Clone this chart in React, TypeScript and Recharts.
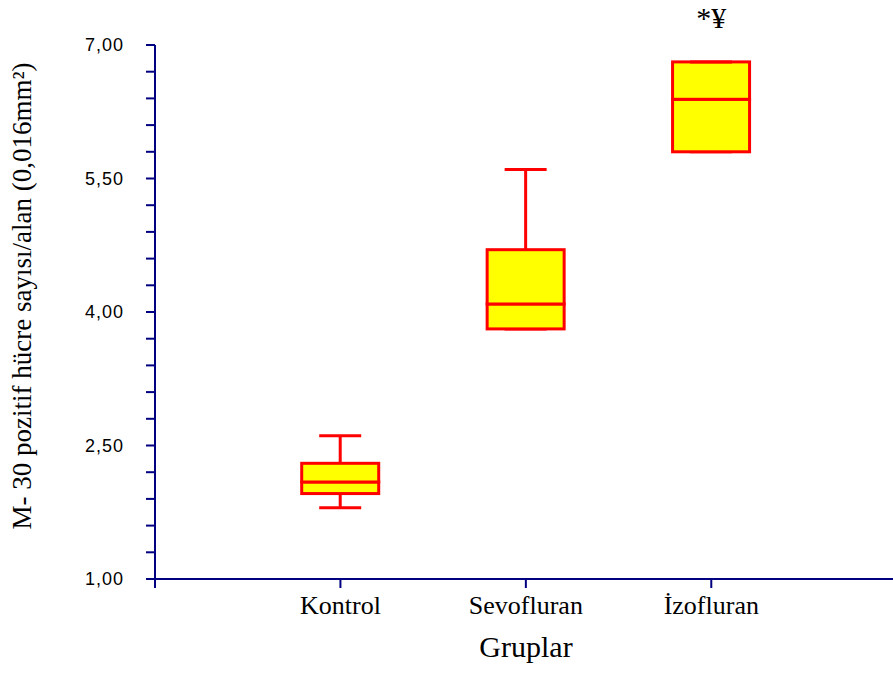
import { Bar, ComposedChart, ReferenceDot, XAxis, YAxis } from "recharts";

const groups = ["Kontrol", "Sevofluran", "İzofluran"];
const minValues = [1.8, 3.81, 5.8];
const q1Values = [1.96, 3.81, 5.8];
const medianValues = [2.09, 4.09, 6.39];
const q3Values = [2.3, 4.7, 6.81];
const maxValues = [2.61, 5.6, 6.81];
const marks = ["", "", "*¥"];

const yTicks = [
  1, 1.3, 1.6, 1.9, 2.2, 2.5, 2.8, 3.1, 3.4, 3.7, 4, 4.3, 4.6, 4.9, 5.2, 5.5,
  5.8, 6.1, 6.4, 6.7, 7,
];
const yLabelTicks = [1, 2.5, 4, 5.5, 7];

const yTitle = "M- 30 pozitif hücre sayısı/alan (0,016mm²)";
const xTitle = "Gruplar";

const data = groups.map((name, i) => ({
  name,
  pos: i + 1,
  max: maxValues[i],
  mark: marks[i],
  base: minValues[i],
  lowWhisker: q1Values[i] - minValues[i],
  lowBox: medianValues[i] - q1Values[i],
  highBox: q3Values[i] - medianValues[i],
  highWhisker: maxValues[i] - q3Values[i],
}));

const xTicks = [0, ...data.map((d) => d.pos)];

const NAVY = "#000080";
const RED = "#ff0000";
const YELLOW = "#ffff00";
const CAP = 42;
const SERIF = "'Liberation Serif', 'Times New Roman', serif";
const SANS = "'Liberation Sans', Arial, sans-serif";

function edges(props: any) {
  const top = Math.min(props.y, props.y + props.height);
  const bottom = Math.max(props.y, props.y + props.height);
  return { top, bottom, cx: props.x + props.width / 2 };
}

function LowWhisker(props: any) {
  const { top, bottom, cx } = edges(props);
  return (
    <g>
      <line x1={cx} x2={cx} y1={top} y2={bottom} stroke={RED} strokeWidth={3} />
      <line
        x1={cx - CAP / 2}
        x2={cx + CAP / 2}
        y1={bottom}
        y2={bottom}
        stroke={RED}
        strokeWidth={3}
      />
    </g>
  );
}

function HighWhisker(props: any) {
  const { top, bottom, cx } = edges(props);
  return (
    <g>
      <line x1={cx} x2={cx} y1={top} y2={bottom} stroke={RED} strokeWidth={3} />
      <line
        x1={cx - CAP / 2}
        x2={cx + CAP / 2}
        y1={top}
        y2={top}
        stroke={RED}
        strokeWidth={3}
      />
    </g>
  );
}

function BoxPart(props: any) {
  const { top, bottom } = edges(props);
  return (
    <rect
      x={props.x}
      y={top}
      width={props.width}
      height={bottom - top}
      fill={YELLOW}
      stroke={RED}
      strokeWidth={3}
    />
  );
}

function formatY(v: number) {
  const major = yLabelTicks.some((t) => Math.abs(t - v) < 1e-6);
  return major ? v.toFixed(2).replace(".", ",") : "";
}

export default function App() {
  return (
    <div
      style={{
        position: "absolute",
        left: 0,
        top: 0,
        width: 893,
        height: 674,
        background: "#ffffff",
        overflow: "hidden",
      }}
    >
      <ComposedChart
        width={893}
        height={674}
        data={data}
        margin={{ top: 45, right: 0, bottom: 0, left: 0 }}
      >
        <XAxis
          dataKey="pos"
          type="number"
          domain={[0, 3.98]}
          ticks={xTicks}
          interval={0}
          tickFormatter={(v) => groups[v - 1] ?? ""}
          height={95}
          tickSize={9}
          tickMargin={8}
          axisLine={{ stroke: NAVY, strokeWidth: 2 }}
          tickLine={{ stroke: NAVY, strokeWidth: 2 }}
          tick={{
            fill: "#000000",
            fontSize: 26,
            fontFamily: SERIF,
          }}
          label={(props: any) => {
            const vb = props.viewBox;
            return (
              <text
                x={vb.x + vb.width / 2 + 2}
                y={657}
                textAnchor="middle"
                fill="#000000"
                style={{ fontSize: 30, fontFamily: SERIF }}
              >
                {xTitle}
              </text>
            );
          }}
        />
        <YAxis
          type="number"
          domain={[1, 7]}
          allowDataOverflow
          ticks={yTicks}
          interval={0}
          tickFormatter={formatY}
          width={155}
          tickSize={9}
          tickMargin={22}
          axisLine={{ stroke: NAVY, strokeWidth: 2 }}
          tickLine={{ stroke: NAVY, strokeWidth: 2 }}
          tick={{
            fill: "#000000",
            fontSize: 18,
            fontFamily: SANS,
            letterSpacing: 1,
          }}
          label={(props: any) => {
            const vb = props.viewBox;
            const cx = 22;
            const cy = vb.y + vb.height / 2 - 16;
            return (
              <text
                x={cx}
                y={cy}
                transform={`rotate(-90 ${cx} ${cy})`}
                textAnchor="middle"
                dominantBaseline="central"
                fill="#000000"
                style={{ fontSize: 27, fontFamily: SERIF }}
              >
                {yTitle}
              </text>
            );
          }}
        />
        <Bar
          dataKey="base"
          stackId="box"
          barSize={77}
          fill="none"
          shape={() => <g />}
          isAnimationActive={false}
        />
        <Bar
          dataKey="lowWhisker"
          stackId="box"
          barSize={77}
          shape={LowWhisker}
          isAnimationActive={false}
        />
        <Bar
          dataKey="lowBox"
          stackId="box"
          barSize={77}
          shape={BoxPart}
          isAnimationActive={false}
        />
        <Bar
          dataKey="highBox"
          stackId="box"
          barSize={77}
          shape={BoxPart}
          isAnimationActive={false}
        />
        <Bar
          dataKey="highWhisker"
          stackId="box"
          barSize={77}
          shape={HighWhisker}
          isAnimationActive={false}
        />
        {data
          .filter((d) => d.mark)
          .map((d) => (
            <ReferenceDot
              key={d.name}
              x={d.pos}
              y={d.max}
              r={0}
              fill="none"
              stroke="none"
              label={{
                value: d.mark,
                position: "top",
                offset: 34,
                fill: "#000000",
                fontSize: 30,
                fontFamily: SERIF,
              }}
            />
          ))}
      </ComposedChart>
    </div>
  );
}
